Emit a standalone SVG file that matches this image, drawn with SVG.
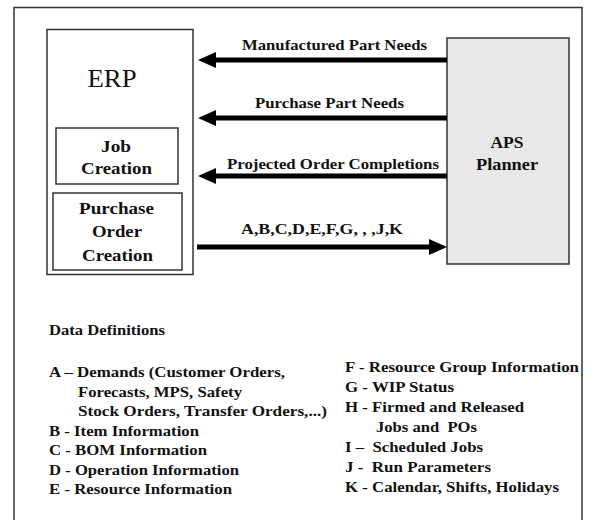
<svg xmlns="http://www.w3.org/2000/svg" width="595" height="520" viewBox="0 0 595 520">
  <style>
    .frame { fill: none; stroke: #333; stroke-width: 1.5; }
    .box { fill: #fff; stroke: #333; stroke-width: 1.5; }
    .aps { fill: #e8e8e8; stroke: #333; stroke-width: 1.5; }
    .shaft { stroke: #000; stroke-width: 5; fill: none; }
    text { font-family: 'Liberation Serif', 'Times New Roman', Times, serif; fill: #111; }
    .lbl { font-family: 'Liberation Serif', serif; font-size: 14px; font-weight: bold; }
    .inner { font-family: 'Liberation Serif', serif; font-size: 16px; font-weight: bold; text-anchor: middle; }
    .def { font-family: 'Liberation Serif', serif; font-size: 15px; font-weight: bold; }
  </style>
  <defs>
    <marker id="head" markerUnits="userSpaceOnUse" markerWidth="18" markerHeight="16" refX="0" refY="8" orient="auto" overflow="visible">
      <path d="M0,0 L18,8 L0,16 Z" fill="#000"/>
    </marker>
  </defs>

  <rect width="595" height="520" fill="#fff"/>

  <!-- outer frame, open at the bottom -->
  <path class="frame" d="M14,530 L14,7.5 L582,7.5 L582,530"/>

  <g id="erp">
    <rect class="box" x="47" y="29.5" width="146" height="245"/>
    <text x="112" y="87" font-size="26" text-anchor="middle" textLength="49" lengthAdjust="spacingAndGlyphs">ERP</text>
  </g>

  <g id="job-creation">
    <rect class="box" x="56" y="128" width="122" height="56"/>
    <text class="inner" x="116" y="152" textLength="30" lengthAdjust="spacingAndGlyphs">Job</text>
    <text class="inner" x="116.5" y="174" textLength="71" lengthAdjust="spacingAndGlyphs">Creation</text>
  </g>

  <g id="purchase-order-creation">
    <rect class="box" x="53" y="193" width="129" height="77"/>
    <text class="inner" x="116.5" y="214" textLength="75" lengthAdjust="spacingAndGlyphs">Purchase</text>
    <text class="inner" x="117" y="237" textLength="50" lengthAdjust="spacingAndGlyphs">Order</text>
    <text class="inner" x="117.5" y="261" textLength="71" lengthAdjust="spacingAndGlyphs">Creation</text>
  </g>

  <g id="aps-planner">
    <rect class="aps" x="447" y="38" width="122" height="226"/>
    <text x="507" y="148" font-size="16" font-weight="bold" text-anchor="middle" textLength="33" lengthAdjust="spacingAndGlyphs">APS</text>
    <text x="507" y="170" font-size="16" font-weight="bold" text-anchor="middle" textLength="62" lengthAdjust="spacingAndGlyphs">Planner</text>
  </g>

  <g id="connectors">
    <line class="shaft" x1="447" y1="60" x2="216" y2="60" marker-end="url(#head)"/>
    <line class="shaft" x1="447" y1="118" x2="216" y2="118" marker-end="url(#head)"/>
    <line class="shaft" x1="447" y1="176" x2="216" y2="176" marker-end="url(#head)"/>
    <line class="shaft" x1="197" y1="247" x2="429" y2="247" marker-end="url(#head)"/>
    <text class="lbl" x="242" y="50" textLength="185" lengthAdjust="spacingAndGlyphs">Manufactured Part Needs</text>
    <text class="lbl" x="255" y="108" textLength="149" lengthAdjust="spacingAndGlyphs">Purchase Part Needs</text>
    <text class="lbl" x="227" y="169" textLength="212" lengthAdjust="spacingAndGlyphs">Projected Order Completions</text>
    <text class="lbl" x="241" y="234" textLength="162" lengthAdjust="spacingAndGlyphs" xml:space="preserve">A,B,C,D,E,F,G, , ,J,K</text>
  </g>

  <g id="data-definitions">
    <text class="def" x="49" y="335" textLength="116" lengthAdjust="spacingAndGlyphs">Data Definitions</text>
    <text class="def" x="49" y="377" textLength="236" lengthAdjust="spacingAndGlyphs">A – Demands (Customer Orders,</text>
    <text class="def" x="78" y="396.5" textLength="164" lengthAdjust="spacingAndGlyphs">Forecasts, MPS, Safety</text>
    <text class="def" x="78" y="416" textLength="249" lengthAdjust="spacingAndGlyphs">Stock Orders, Transfer Orders,...)</text>
    <text class="def" x="49" y="435.5" textLength="150" lengthAdjust="spacingAndGlyphs">B - Item Information</text>
    <text class="def" x="49" y="455" textLength="158" lengthAdjust="spacingAndGlyphs">C - BOM Information</text>
    <text class="def" x="49" y="474.5" textLength="190" lengthAdjust="spacingAndGlyphs">D - Operation Information</text>
    <text class="def" x="49" y="494" textLength="183" lengthAdjust="spacingAndGlyphs">E - Resource Information</text>

    <text class="def" x="345" y="372" textLength="234" lengthAdjust="spacingAndGlyphs">F - Resource Group Information</text>
    <text class="def" x="345" y="392" textLength="109" lengthAdjust="spacingAndGlyphs">G - WIP Status</text>
    <text class="def" x="345" y="412" textLength="179" lengthAdjust="spacingAndGlyphs">H - Firmed and Released</text>
    <text class="def" x="376" y="432" textLength="101" lengthAdjust="spacingAndGlyphs" xml:space="preserve">Jobs and  POs</text>
    <text class="def" x="345" y="452" textLength="138" lengthAdjust="spacingAndGlyphs" xml:space="preserve">I –  Scheduled Jobs</text>
    <text class="def" x="345" y="472" textLength="146" lengthAdjust="spacingAndGlyphs" xml:space="preserve">J -  Run Parameters</text>
    <text class="def" x="345" y="492" textLength="214" lengthAdjust="spacingAndGlyphs">K - Calendar, Shifts, Holidays</text>
  </g>
</svg>
